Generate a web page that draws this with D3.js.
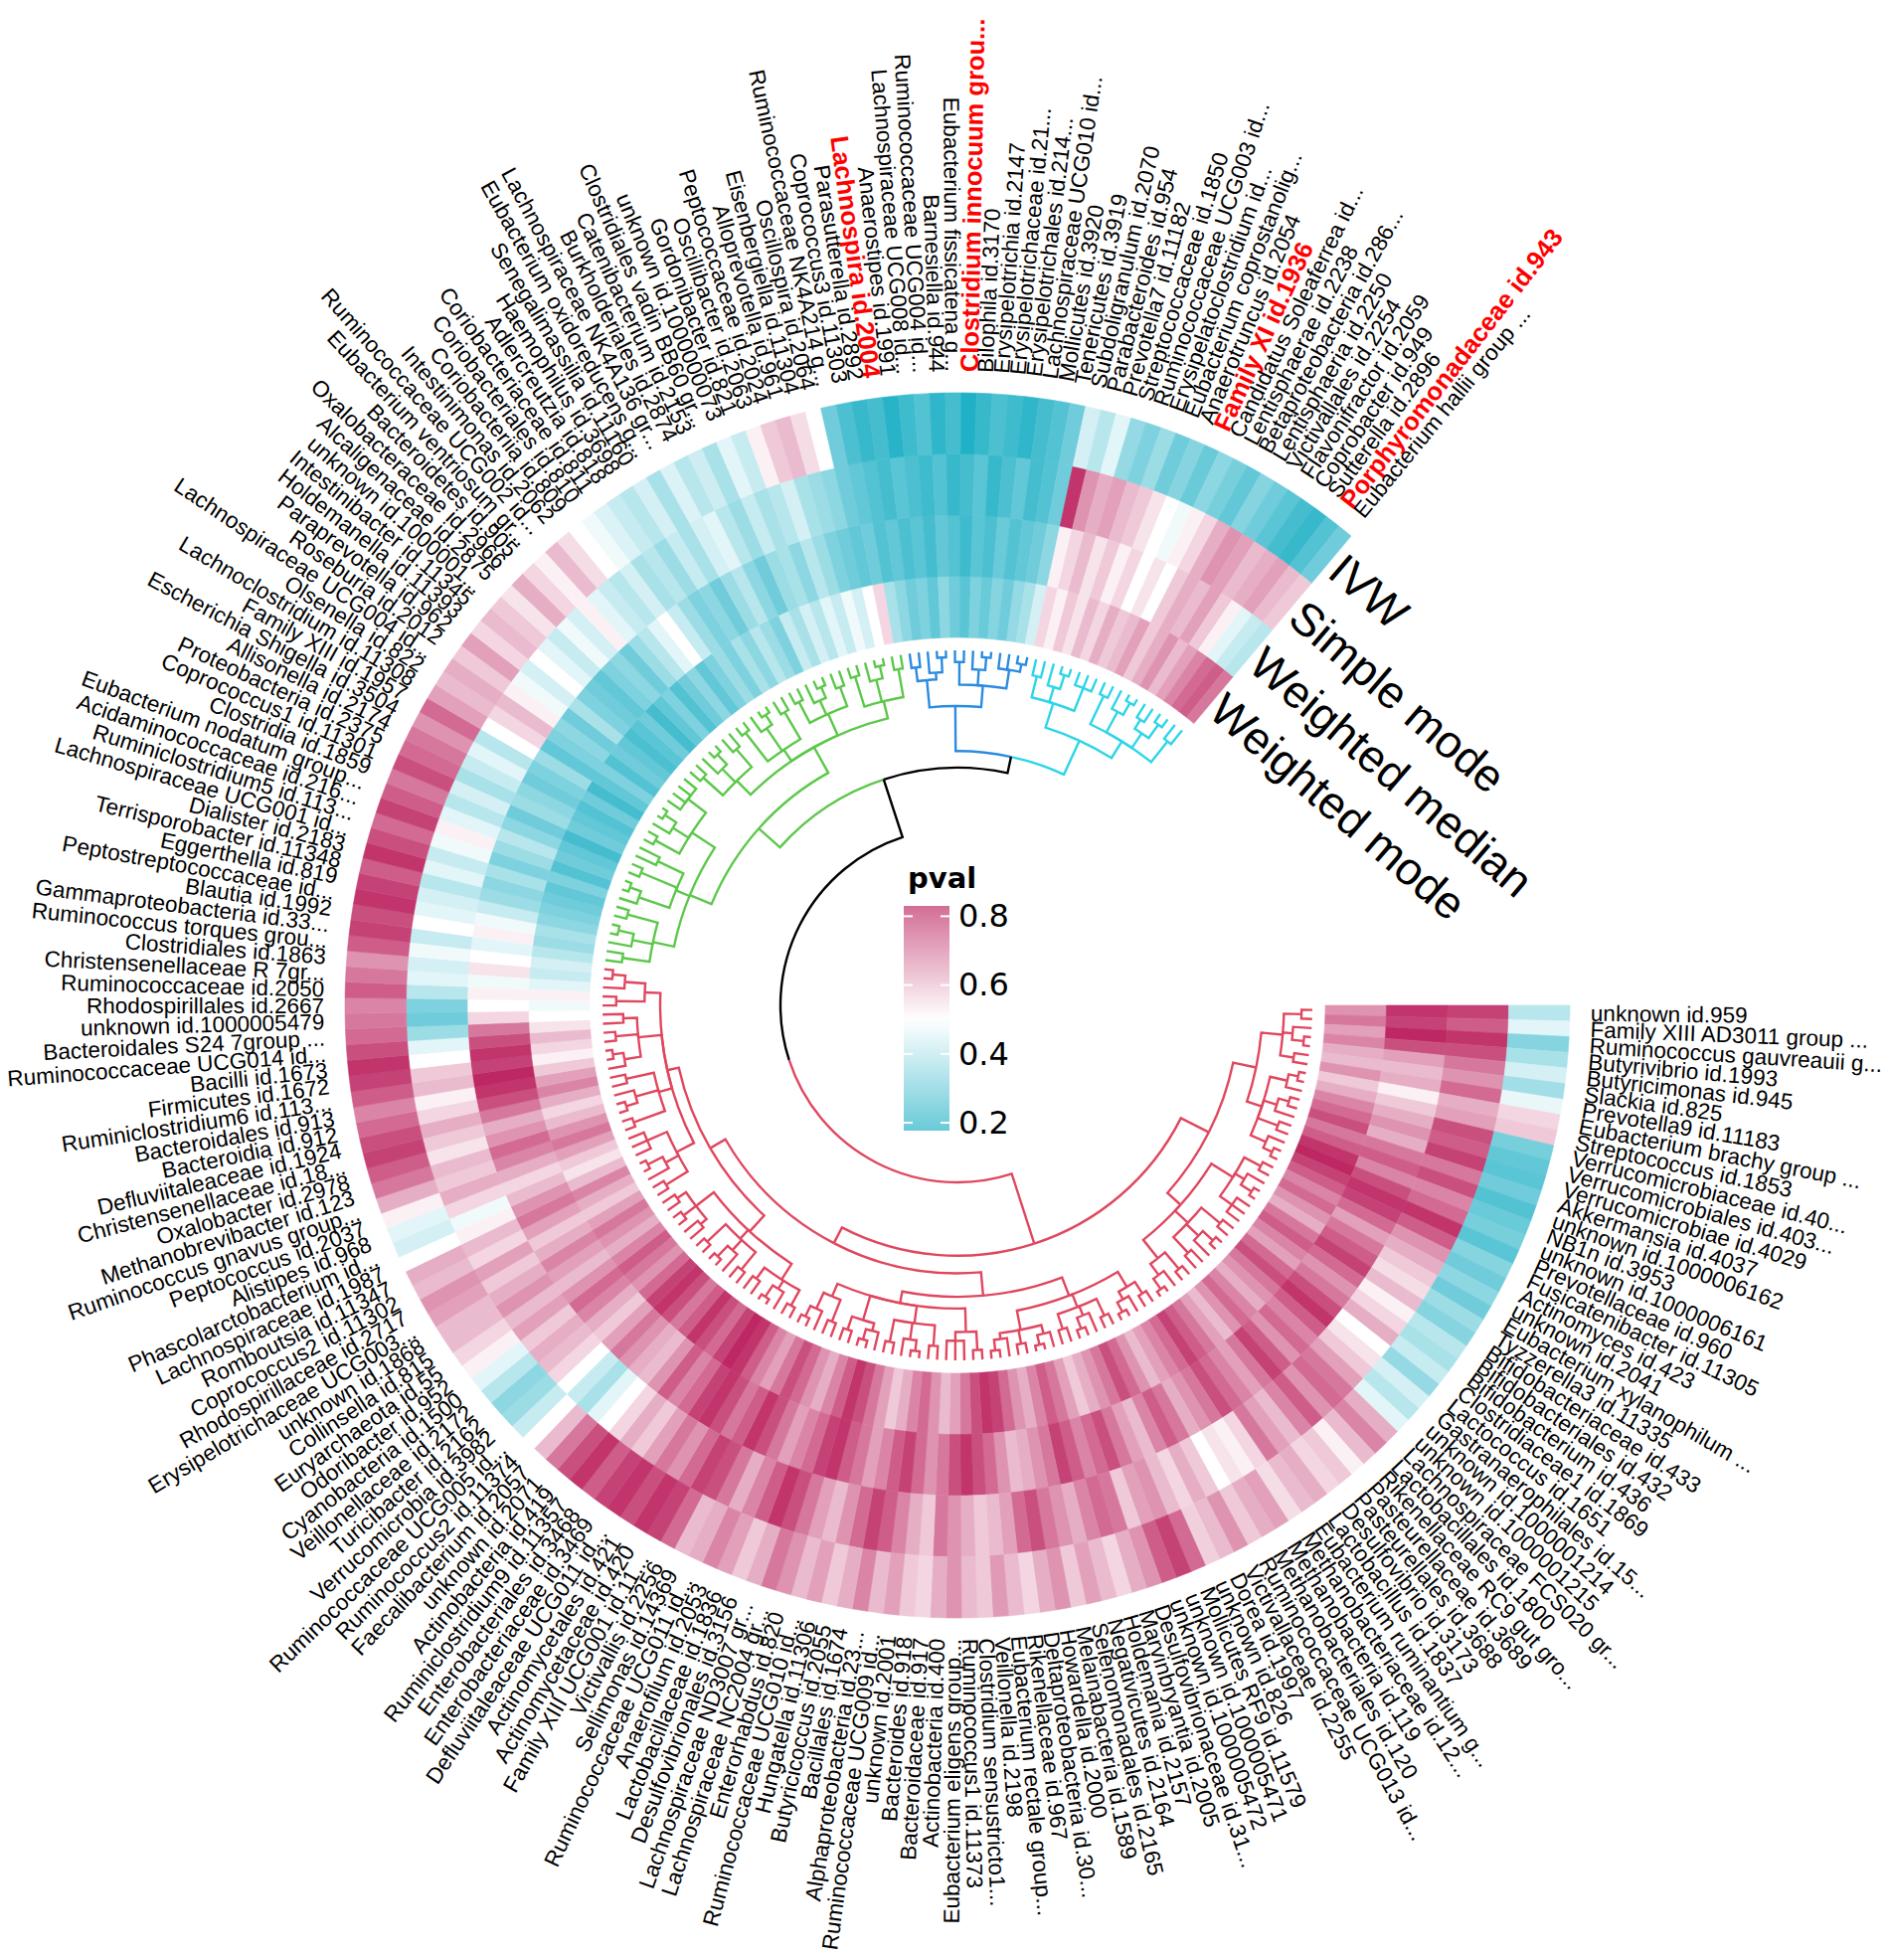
<!DOCTYPE html>
<html><head><meta charset="utf-8">
<script src="https://cdn.jsdelivr.net/npm/d3@7"></script>
<style>body{margin:0;background:#fff}svg{display:block}</style>
</head><body>
<svg id="chart" width="1901" height="1971"></svg>
<script>
const taxa = ["unknown id.959","Family XIII AD3011 group ...","Ruminococcus gauvreauii g...","Butyrivibrio id.1993","Butyricimonas id.945","Slackia id.825","Prevotella9 id.11183","Eubacterium brachy group ...","Streptococcus id.1853","Verrucomicrobiaceae id.40...",
"Verrucomicrobiales id.403...","Verrucomicrobiae id.4029","Akkermansia id.4037","unknown id.1000006162","NB1n id.3953","unknown id.1000006161","Prevotellaceae id.960","Fusicatenibacter id.11305","Actinomyces id.423","unknown id.2041",
"Eubacterium xylanophilum ...","Tyzzerella3 id.11335","Bifidobacteriaceae id.433","Bifidobacteriales id.432","Bifidobacterium id.436","Clostridiaceae1 id.1869","Lactococcus id.1651","Gastranaerophilales id.15...","unknown id.1000001214","unknown id.1000001215",
"Lachnospiraceae FCS020 gr...","Lactobacillales id.1800","Rikenellaceae RC9 gut gro...","Pasteurellaceae id.3689","Pasteurellales id.3688","Desulfovibrio id.3173","Lactobacillus id.1837","Eubacterium ruminantium g...","Methanobacteriaceae id.12...","Methanobacteria id.119",
"Methanobacteriales id.120","Ruminococcaceae UCG013 id...","Victivallaceae id.2255","Dorea id.1997","unknown id.826","Mollicutes RF9 id.11579","unknown id.1000005471","unknown id.1000005472","Desulfovibrionaceae id.31...","Marvinbryantia id.2005",
"Holdemania id.2157","Negativicutes id.2164","Selenomonadales id.2165","Melainabacteria id.1589","Howardella id.2000","Deltaproteobacteria id.30...","Rikenellaceae id.967","Eubacterium rectale group...","Veillonella id.2198","Clostridium sensustricto1...",
"Ruminococcus1 id.11373","Eubacterium eligens group...","Actinobacteria id.400","Bacteroidaceae id.917","Bacteroides id.918","unknown id.2001","Ruminococcaceae UCG009 id...","Alphaproteobacteria id.23...","Bacillales id.1674","Butyricicoccus id.2055",
"Hungatella id.11306","Ruminococcaceae UCG010 id...","Enterorhabdus id.820","Lachnospiraceae NC2004 gr...","Lachnospiraceae ND3007 gr...","Desulfovibrionales id.3156","Lactobacillaceae id.1836","Anaerofilum id.2053","Ruminococcaceae UCG011 id...","Sellimonas id.14369",
"Victivallis id.2256","Family XIII UCG001 id.11...","Actinomycetaceae id.420","Actinomycetales id.421","Defluviitaleaceae UCG011 id...","Enterobacteriaceae id.3469","Enterobacteriales id.3468","Ruminiclostridium9 id.11357","Actinobacteria id.419","unknown id.2071",
"Faecalibacterium id.2057","Ruminococcus2 id.11374","Ruminococcaceae UCG005 id...","Verrucomicrobia id.3982","Turicibacter id.2162","Veillonellaceae id.2172","Cyanobacteria id.1500","Odoribacter id.952","Euryarchaeota id.55","Collinsella id.815",
"unknown id.1868","Erysipelotrichaceae UCG003...","Rhodospirillaceae id.2717","Coprococcus2 id.11302","Romboutsia id.11347","Lachnospiraceae id.1987","Phascolarctobacterium id...","Alistipes id.968","Peptococcus id.2037","Ruminococcus gnavus group...",
"Methanobrevibacter id.123","Oxalobacter id.2978","Christensenellaceae id.18...","Defluviitaleaceae id.1924","Bacteroidia id.912","Bacteroidales id.913","Ruminiclostridium6 id.113...","Firmicutes id.1672","Bacilli id.1673","Ruminococcaceae UCG014 id...",
"Bacteroidales S24 7group ...","unknown id.1000005479","Rhodospirillales id.2667","Ruminococcaceae id.2050","Christensenellaceae R 7gr...","Clostridiales id.1863","Ruminococcus torques grou...","Gammaproteobacteria id.33...","Blautia id.1992","Peptostreptococcaceae id...",
"Eggerthella id.819","Terrisporobacter id.11348","Dialister id.2183","Lachnospiraceae UCG001 id...","Ruminiclostridium5 id.113...","Acidaminococcaceae id.216...","Eubacterium nodatum group...","Clostridia id.1859","Coprococcus1 id.11301","Proteobacteria id.2375",
"Allisonella id.2174","Escherichia Shigella id.3504","Family XIII id.1957","Lachnoclostridium id.11308","Olsenella id.822","Lachnospiraceae UCG004 id...","Roseburia id.2012","Paraprevotella id.962","Holdemanella id.11393","Intestinibacter id.11345",
"unknown id.1000001...","Alcaligenaceae id.2875","Oxalobacteraceae id.2966","Bacteroidetes id.905","Eubacterium ventriosum gr...","Ruminococcaceae UCG002 id...","Intestinimonas id.2062","Coriobacteriia id.809","Coriobacteriales id.810","Coriobacteriaceae id.811",
"Adlercreutzia id.818","Haemophilus id.3698","Senegalimassilia id.11160","Eubacterium oxidoreducens g...","Lachnospiraceae NK4A136 gr...","Burkholderiales id.2874","Catenibacterium id.2153","Clostridiales vadin BB60 gr...","unknown id.1000000073","Gordonibacter id.821",
"Oscillibacter id.2063","Peptococcaceae id.2024","Alloprevotella id.961","Eisenbergiella id.11304","Oscillospira id.2064","Ruminococcaceae NK4A214 g...","Coprococcus3 id.11303","Parasutterella id.2892","Lachnospira id.2004","Anaerostipes id.1991",
"Lachnospiraceae UCG008 id...","Ruminococcaceae UCG004 id...","Barnesiella id.944","Eubacterium fissicatena g...","Clostridium innocuum grou...","Bilophila id.3170","Erysipelotrichia id.2147","Erysipelotrichaceae id.21...","Erysipelotrichales id.214...","Lachnospiraceae UCG010 id...",
"Mollicutes id.3920","Tenericutes id.3919","Subdoligranulum id.2070","Parabacteroides id.954","Prevotella7 id.11182","Streptococcaceae id.1850","Ruminococcaceae UCG003 id...","Erysipelatoclostridium id...","Eubacterium coprostanolig...","Anaerotruncus id.2054",
"Family XI id.1936","Candidatus Soleaferrea id...","Lentisphaerae id.2238","Betaproteobacteria id.286...","Lentisphaeria id.2250","Victivallales id.2254","Flavonifractor id.2059","Coprobacter id.949","Sutterella id.2896","Porphyromonadaceae id.943",
"Eubacterium hallii group ..."];

const highlighted = ["Lachnospira id.2004","Clostridium innocuum grou...","Family XI id.1936","Porphyromonadaceae id.943"];

// columns, innermost first
const methods = ["Weighted mode","Weighted median","Simple mode","IVW"];

const pvalIVW = [.40,.46,.33,.38,.44,.37,.47,.56,.58,.31,
 .28,.27,.30,.26,.29,.31,.27,.33,.30,.34,
 .30,.36,.33,.40,.38,.42,.35,.44,.40,.46,
 .62,.68,.60,.52,.58,.56,.62,.60,.55,.64,
 .62,.58,.66,.60,.57,.72,.78,.74,.66,.62,
 .56,.60,.64,.58,.66,.62,.56,.60,.65,.58,
 .60,.66,.62,.56,.58,.64,.60,.68,.62,.58,
 .64,.60,.66,.70,.62,.58,.64,.68,.62,.60,
 .72,.78,.80,.76,.80,.78,.74,.80,.76,.70,
 .60,.50,.42,.36,.34,.40,.46,.52,.56,.60,
 .60,.64,.66,.60,.62,.50,.44,.46,.52,.62,
 .70,.74,.78,.76,.72,.68,.74,.78,.80,.76,
 .72,.70,.68,.74,.70,.66,.74,.78,.76,.80,
 .78,.74,.80,.76,.72,.78,.74,.70,.76,.72,
 .70,.66,.72,.64,.60,.62,.58,.64,.56,.60,
 .58,.54,.62,.56,.52,.60,.55,.50,.48,.45,
 .42,.40,.44,.38,.45,.40,.43,.38,.46,.42,
 .52,.58,.60,.55,.50,.30,.25,.22,.24,.20,
 .23,.26,.21,.24,.19,.22,.25,.23,.21,.24,
 .26,.30,.44,.40,.46,.35,.32,.36,.30,.33,
 .29,.34,.31,.28,.33,.30,.27,.24,.22,.26,.30];

const pvalSimple = [.78,.74,.80,.76,.70,.66,.72,.62,.64,.76,
 .74,.78,.70,.76,.68,.72,.80,.74,.66,.62,
 .58,.55,.60,.52,.56,.62,.50,.54,.58,.64,
 .70,.72,.66,.74,.68,.60,.64,.70,.56,.52,
 .54,.50,.58,.62,.56,.60,.66,.64,.58,.70,
 .72,.68,.62,.66,.70,.76,.72,.64,.60,.58,
 .62,.66,.70,.58,.62,.68,.74,.78,.72,.66,
 .60,.64,.70,.76,.80,.74,.68,.62,.70,.76,
 .78,.72,.66,.70,.64,.58,.62,.56,.50,.46,
 .38,.42,.50,.56,.60,.62,.58,.64,.60,.66,
 .62,.58,.64,.56,.60,.52,.48,.56,.62,.58,
 .60,.54,.58,.62,.56,.52,.60,.58,.50,.46,
 .36,.30,.32,.40,.46,.44,.48,.42,.50,.46,
 .44,.40,.46,.42,.48,.52,.46,.40,.44,.38,
 .42,.46,.40,.50,.56,.60,.52,.48,.44,.50,
 .46,.42,.48,.44,.52,.46,.42,.40,.44,.38,
 .40,.36,.42,.38,.44,.46,.40,.36,.42,.38,
 .40,.44,.38,.36,.34,.30,.28,.26,.24,.27,
 .25,.23,.26,.22,.24,.27,.22,.25,.28,.24,
 .26,.30,.80,.66,.62,.64,.60,.58,.54,.50,
 .48,.52,.56,.62,.66,.64,.60,.62,.64,.60,.58];

const pvalWMedian = [.80,.78,.82,.76,.64,.60,.62,.52,.58,.62,
 .66,.62,.70,.74,.68,.76,.80,.78,.72,.64,
 .70,.74,.78,.72,.66,.70,.76,.80,.74,.68,
 .72,.66,.74,.78,.70,.64,.68,.72,.76,.70,
 .66,.62,.70,.74,.68,.60,.64,.70,.76,.72,
 .68,.74,.78,.70,.66,.62,.60,.66,.72,.76,
 .80,.76,.70,.66,.72,.78,.74,.68,.64,.70,
 .74,.80,.78,.72,.68,.64,.70,.76,.80,.74,
 .70,.76,.80,.78,.72,.68,.74,.66,.60,.62,
 .66,.70,.64,.58,.62,.68,.72,.66,.60,.64,
 .68,.62,.58,.64,.70,.66,.60,.56,.62,.68,
 .72,.66,.62,.70,.76,.80,.82,.78,.80,.76,
 .70,.56,.50,.52,.48,.54,.50,.46,.52,.48,
 .42,.36,.34,.38,.32,.36,.40,.34,.30,.36,
 .34,.30,.32,.36,.28,.32,.34,.30,.38,.32,
 .30,.28,.32,.34,.30,.36,.40,.46,.50,.42,
 .36,.32,.34,.30,.36,.40,.34,.30,.36,.38,
 .34,.40,.36,.32,.30,.28,.30,.26,.28,.25,
 .27,.24,.28,.26,.23,.27,.25,.29,.26,.28,
 .30,.34,.52,.56,.60,.54,.58,.52,.56,.50,
 .54,.50,.58,.62,.60,.64,.58,.52,.46,.42,.40];

const pvalWMode = [.66,.70,.64,.68,.62,.60,.66,.58,.62,.68,
 .72,.76,.70,.74,.80,.82,.78,.74,.68,.72,
 .66,.62,.70,.74,.68,.64,.72,.76,.70,.66,
 .62,.68,.72,.66,.60,.64,.70,.74,.78,.72,
 .68,.64,.60,.66,.72,.76,.70,.66,.62,.58,
 .64,.70,.74,.68,.62,.66,.72,.78,.80,.76,
 .70,.64,.60,.66,.72,.68,.62,.58,.64,.70,
 .76,.80,.74,.68,.62,.66,.72,.76,.70,.64,
 .68,.74,.80,.82,.78,.72,.76,.80,.74,.70,
 .76,.80,.78,.72,.66,.70,.74,.68,.62,.66,
 .70,.64,.58,.62,.68,.60,.54,.58,.64,.70,
 .66,.60,.56,.62,.68,.64,.58,.52,.56,.60,
 .54,.50,.48,.52,.46,.42,.44,.40,.36,.38,
 .34,.32,.30,.28,.32,.26,.30,.28,.24,.30,
 .28,.26,.30,.24,.28,.32,.26,.30,.28,.25,
 .27,.30,.24,.28,.32,.26,.30,.34,.28,.32,
 .36,.32,.38,.34,.40,.36,.32,.42,.38,.44,
 .40,.46,.42,.48,.44,.50,.56,.38,.34,.30,
 .32,.28,.34,.30,.27,.32,.29,.33,.30,.35,
 .38,.44,.56,.52,.58,.54,.60,.56,.62,.58,
 .60,.64,.58,.62,.66,.60,.64,.68,.72,.74,.70];

const legendTicks = [0.2, 0.4, 0.6, 0.8];
const legendRange = [0.177, 0.83];

// dendrogram: [mergeHeight, child, child, ...]; leaves are 1-based taxon numbers
const cladeRed = [10.7,
 [7.5,
  [5.1,
   [2.9,[1.1,1,2],[1.9,3,[0.7,4,5]],[1.5,6,7]],
   [3.5,[1.7,[0.7,8,9],10],[2.1,[1.0,11,12],13],[1.3,14,15],[1.8,16,[0.8,17,18]]]],
  [5.7,
   [3.1,[1.2,19,20],[2.0,21,[0.7,22,23]],[1.6,24,25,26]],
   [3.9,[1.4,27,28],[2.2,[0.8,29,30],31],[1.7,32,33]],
   [3.3,[1.1,34,35],[1.9,36,[0.6,37,38]]]]],
 [8.9,
  [6.5,
   [4.5,
    [2.7,[1.3,39,40],[1.8,41,[0.7,42,43]]],
    [3.1,[1.2,44,45],[2.1,46,[0.9,47,48]],[1.5,49,50]],
    [2.5,[1.6,51,[0.6,52,53]],[1.1,54,55],[1.9,56,[0.8,57,58]]]],
   [5.3,
    [2.9,[1.0,59,60],[2.0,61,62,63]],
    [3.5,[1.4,64,65],[1.8,[0.7,66,67],68],[1.2,69,70]],
    [2.7,[1.9,71,[0.8,72,73]],[1.3,74,75]],
    [3.9,[1.5,76,77],[2.1,78,[0.9,79,80]]]]],
  [7.1,
   [4.9,
    [3.0,[1.2,81,82],[2.0,83,[0.6,84,85]],[1.6,86,87]],
    [3.7,[1.4,88,89],[2.3,90,[0.8,91,92]],[1.1,93,94]],
    [2.6,[1.8,95,96],[1.0,97,98],[1.5,99,100]]],
   [5.9,
    [3.9,[1.3,101,102],[2.4,103,[0.7,104,105]],[1.7,106,107,108]],
    [4.5,[1.1,109,110],[2.1,[0.9,111,112],113],[1.6,114,115]],
    [3.5,[1.8,116,[0.7,117,118]],[1.2,119,120],[2.1,121,122]],
    [4.3,[1.4,123,124],[2.2,125,[0.9,126,127]]]]]]];

const cladeGreen = [9.1,
 [6.7,
  [4.5,[1.7,128,129],[2.4,130,[0.8,131,132]],[1.3,133,134]],
  [5.2,[1.9,135,[0.7,136,137]],[1.2,138,139],[2.3,140,141]],
  [3.9,[1.1,142,143],[2.0,144,[0.6,145,146]],[1.6,147,148,149,150]]],
 [6.1,
  [4.1,[1.4,151,152],[2.2,153,[0.8,154,155]],[1.7,156,157]],
  [4.7,[1.0,158,159],[1.9,160,[0.7,161,162]],[1.5,163,164]],
  [3.7,[1.3,165,166],[2.1,167,[0.9,168,169]],[1.6,170,171]],
  [4.3,[1.1,172,173],[2.0,174,[0.7,175,176]],[1.4,177,178]]]];

const cladeBlue = [5.7,[2.9,[1.5,179,180],[2.2,181,[0.7,182,183]]],[3.5,[1.2,184,185],[1.9,186,[0.6,187,188]],[1.6,189,190,[0.8,191,192]]]];
const cladeCyan = [6.5,[3.9,[1.7,193,194],[2.3,195,[0.8,196,197]],[1.4,198,199,200]],[4.5,[1.3,201,202],[2.1,203,[0.7,204,205]],[2.7,[1.6,206,207],[1.0,208,209]],[1.8,210,211]]];

const treeSpec = [18.2, [12.0, cladeGreen, [10.3, cladeBlue, cladeCyan]], cladeRed];
const clusterLast = [127, 178, 192, 211];
const clusterNames = ["red","green","blue","cyan"];

// ---------------- drawing ----------------
const cx = 963, cy = 1011;
const svg = d3.select("#chart");
const g = svg.append("g").attr("transform", `translate(${cx},${cy})`);
const n = taxa.length;
const FONT = "'DejaVu Sans', Verdana, sans-serif";
const LFONT = "'Liberation Sans', Arial, Helvetica, sans-serif";

const angle = d3.scaleLinear().domain([0, n]).range([0, 310 * Math.PI / 180]);
const ringR = d3.scaleLinear().domain([0, methods.length]).range([370, 616]);
const rTree = d3.scaleLinear().domain([0, 18.2]).range([357, 178]);
const color = d3.scaleLinear().domain([0.18, 0.5, 0.83])
  .range(["#1aaec4", "#ffffff", "#bb205d"]).clamp(true);
const branchColor = {red: "#e0475f", green: "#5cc84a", blue: "#2b8be0", cyan: "#2dd5e8", root: "#000000"};

// heatmap rings
const series = [pvalWMode, pvalWMedian, pvalSimple, pvalIVW];
const arcGen = d3.arc();
series.forEach((vals, k) => {
  g.append("g").selectAll("path").data(vals).join("path")
    .attr("d", (v, i) => arcGen({innerRadius: ringR(k), outerRadius: ringR(k + 1),
        startAngle: angle(i) + Math.PI / 2, endAngle: angle(i + 1) + Math.PI / 2}))
    .attr("fill", v => color(v))
    .attr("stroke", v => color(v))
    .attr("stroke-width", 0.6);
});

// dendrogram
const clusterOf = leaf => clusterNames[clusterLast.findIndex(l => leaf <= l)];
const root = d3.hierarchy(treeSpec, d => Array.isArray(d) ? d.slice(1) : null);
root.eachAfter(nd => {
  if (!nd.children) {
    nd.h = 0; nd.a = angle(nd.data - 0.5); nd.grp = clusterOf(nd.data);
  } else {
    nd.h = nd.data[0];
    const as = nd.children.map(c => c.a);
    nd.a = (d3.min(as) + d3.max(as)) / 2;
    const gs = new Set(nd.children.map(c => c.grp));
    nd.grp = gs.size === 1 ? [...gs][0] : "root";
  }
});
const edges = root.descendants().filter(d => d.parent);
edges.sort((a, b) => (a.grp === "root" ? 1 : 0) - (b.grp === "root" ? 1 : 0));
g.append("g").selectAll("path").data(edges).join("path")
  .attr("d", d => {
    const p = d.parent, rp = rTree(p.h), rc = rTree(d.h);
    const path = d3.path();
    path.moveTo(rp * Math.cos(p.a), rp * Math.sin(p.a));
    path.arc(0, 0, rp, p.a, d.a, d.a < p.a);
    path.lineTo(rc * Math.cos(d.a), rc * Math.sin(d.a));
    return path.toString();
  })
  .attr("fill", "none")
  .attr("stroke", d => branchColor[d.grp])
  .attr("stroke-width", 2.4)
  .attr("stroke-linejoin", "miter");

// taxon labels
const isLeft = i => { const deg = angle(i + 0.5) * 180 / Math.PI; return deg > 90 && deg < 270; };
g.append("g").selectAll("text").data(taxa).join("text")
  .attr("transform", (t, i) => {
    const deg = angle(i + 0.5) * 180 / Math.PI;
    return `rotate(${deg}) translate(637,0)` + (isLeft(i) ? " rotate(180)" : "");
  })
  .attr("text-anchor", (t, i) => isLeft(i) ? "end" : "start")
  .attr("dominant-baseline", "central")
  .attr("font-family", LFONT)
  .attr("font-size", t => highlighted.includes(t) ? 25.5 : 22.5)
  .attr("font-weight", t => highlighted.includes(t) ? "bold" : "normal")
  .attr("fill", t => highlighted.includes(t) ? "#ff0000" : "#000")
  .text(t => t);

// column (method) labels
const endDeg = angle(n) * 180 / Math.PI + 0.6;
g.append("g").selectAll("text").data(methods).join("text")
  .attr("transform", (m, k) => `rotate(${endDeg}) translate(${(ringR(k) + ringR(k + 1)) / 2},0) rotate(90)`)
  .attr("dominant-baseline", "central")
  .attr("font-family", LFONT)
  .attr("font-size", 46)
  .attr("fill", "#000")
  .text(m => m);

// legend
const lx = 909, lw = 46;
const ly = d3.scaleLinear().domain(legendRange).range([1137, 911]);
const defs = svg.append("defs");
const grad = defs.append("linearGradient").attr("id", "pgrad")
  .attr("x1", 0).attr("y1", 1).attr("x2", 0).attr("y2", 0);
d3.range(0, 1.0001, 0.05).forEach(t => {
  const v = legendRange[0] + t * (legendRange[1] - legendRange[0]);
  grad.append("stop").attr("offset", t).attr("stop-color", color(v));
});
const leg = svg.append("g");
leg.append("text").attr("x", 913).attr("y", 893)
  .attr("font-family", FONT).attr("font-weight", "bold").attr("font-size", 29)
  .text("pval");
leg.append("rect").attr("x", lx).attr("y", ly(legendRange[1]))
  .attr("width", lw).attr("height", ly(legendRange[0]) - ly(legendRange[1]))
  .attr("fill", "url(#pgrad)").attr("opacity", 0.65);
leg.append("g").selectAll("line").data(legendTicks.flatMap(v => [[v, lx, lx + 9], [v, lx + lw - 9, lx + lw]]))
  .join("line")
  .attr("x1", d => d[1]).attr("x2", d => d[2])
  .attr("y1", d => ly(d[0])).attr("y2", d => ly(d[0]))
  .attr("stroke", "#fff").attr("stroke-width", 2);
const axis = leg.append("g").attr("transform", `translate(${lx + lw},0)`)
  .call(d3.axisRight(ly).tickValues(legendTicks).tickFormat(d3.format(".1f")).tickSize(0).tickPadding(9));
axis.select(".domain").remove();
axis.selectAll("text").attr("font-family", FONT).attr("font-size", 32).attr("fill", "#000");
</script>
</body></html>
